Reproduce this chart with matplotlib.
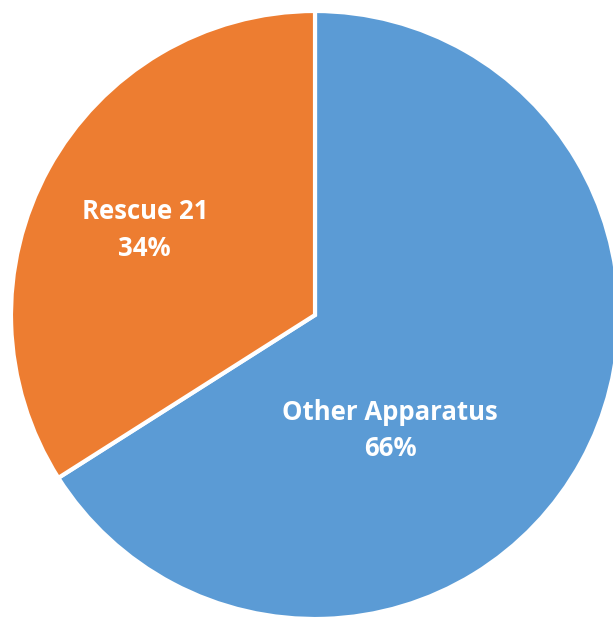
import matplotlib.pyplot as plt

labels = ["Other Apparatus", "Rescue 21"]
shares = [66, 34]
colors = ["#5B9BD5", "#ED7D31"]

W, H = 613, 618
cx, cy, r = 315, 315, 304   # pie centre / radius in pixels (from top-left)

fig = plt.figure(figsize=(W / 100, H / 100), dpi=100)
ax = fig.add_axes([0, 0, 1, 1])

ax.pie(shares, colors=colors, startangle=90, counterclock=False,
       wedgeprops=dict(edgecolor="white", linewidth=3))

ax.set_xlim(-cx / r, (W - cx) / r)
ax.set_ylim(-(H - cy) / r, cy / r)
ax.set_aspect("auto")
ax.axis("off")

# label positions in pie units
label_pos = [(0.247, -0.38), (-0.56, 0.28)]
for name, val, (x, y) in zip(labels, shares, label_pos):
    ax.text(x, y, f"{name}\n{val}%", ha="center", va="center", color="white",
            fontsize=18.5, fontweight="bold", family="Open Sans", linespacing=1.45)

fig.savefig("out.png", dpi=100, facecolor="white")
